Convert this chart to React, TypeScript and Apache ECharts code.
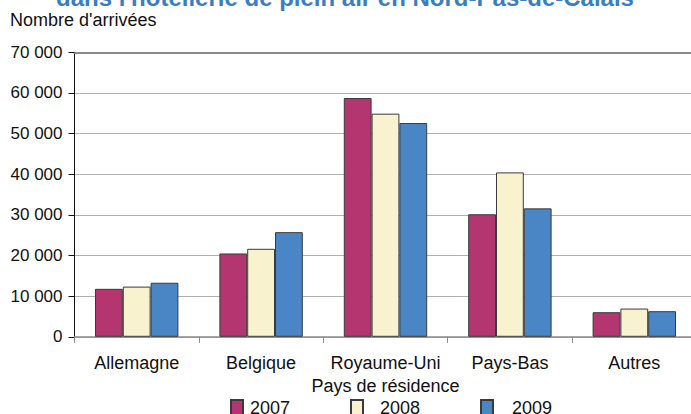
import React, { useEffect, useRef } from "react";
import * as echarts from "echarts";

const categories = ["Allemagne", "Belgique", "Royaume-Uni", "Pays-Bas", "Autres"];
const years = ["2007", "2008", "2009"];
const values2007 = [11800, 20500, 58750, 30150, 6050];
const values2008 = [12350, 21650, 54900, 40450, 6950];
const values2009 = [13300, 25750, 52600, 31600, 6300];
const colors = ["#B43670", "#F8F2CE", "#4A86C5"];
const titleText = "dans l'hôtellerie de plein air en Nord-Pas-de-Calais";
const yAxisTitle = "Nombre d'arrivées";
const xAxisTitle = "Pays de résidence";

const FONT = "'Liberation Sans', Arial, Helvetica, sans-serif";

export default function App() {
  const ref = useRef<HTMLDivElement>(null);
  useEffect(() => {
    if (!ref.current) return;
    const chart = echarts.init(ref.current, null, { renderer: "svg" });
    const seriesData = [values2007, values2008, values2009];
    const legendLefts = [230, 350, 480];
    const legendPads = [2, 12, 14];
    chart.setOption({
      animation: false,
      textStyle: { fontFamily: FONT },
      grid: { left: 74.5, top: 52.3, width: 622, height: 284.5, containLabel: false },
      legend: years.map((y, i) => ({
        data: [y],
        left: legendLefts[i],
        top: 399,
        padding: 0,
        itemWidth: 12,
        itemHeight: 16,
        icon: "rect",
        textStyle: { fontFamily: FONT, fontSize: 18, color: "#111", padding: [0, 0, 0, legendPads[i]] },
      })),
      xAxis: [
        {
          type: "category",
          data: categories,
          position: "bottom",
          name: xAxisTitle,
          nameLocation: "middle",
          nameGap: 37,
          nameTextStyle: { fontFamily: FONT, fontSize: 18, color: "#111" },
          axisLine: { lineStyle: { color: "#8a8a8a", width: 1.5 } },
          axisTick: { show: true, length: 6, lineStyle: { color: "#8a8a8a" } },
          axisLabel: { fontFamily: FONT, fontSize: 18, color: "#111", margin: 17, interval: 0 },
          splitLine: { show: false },
        },
        {
          type: "category",
          data: categories,
          position: "top",
          axisLine: { show: true, lineStyle: { color: "#8a8a8a", width: 2 } },
          axisTick: { show: false },
          axisLabel: { show: false },
        },
      ],
      yAxis: {
        type: "value",
        min: 0,
        max: 70000,
        interval: 10000,
        axisLine: { show: true, lineStyle: { color: "#111", width: 1 } },
        axisTick: { show: true, length: 6, lineStyle: { color: "#111" } },
        axisLabel: {
          fontFamily: FONT,
          fontSize: 17,
          color: "#111",
          margin: 12,
          formatter: (v: number) => String(v).replace(/\B(?=(\d{3})+(?!\d))/g, " "),
        },
        splitLine: { show: true, lineStyle: { color: "#b0b0b0", width: 1.2 } },
      },
      series: years.map((y, i) => ({
        name: y,
        type: "bar",
        data: seriesData[i],
        barWidth: 27.8,
        barGap: "0%",
        itemStyle: { color: colors[i], borderColor: "#3a3a3a", borderWidth: 1 },
      })),
      graphic: [
        {
          type: "text",
          x: 345,
          y: 9,
          style: {
            text: titleText,
            fill: "#3A7DC0",
            font: `bold 24px ${FONT}`,
            align: "center",
            verticalAlign: "bottom",
          },
        },
        {
          type: "text",
          x: 10,
          y: 20,
          style: {
            text: yAxisTitle,
            fill: "#111",
            font: `18px ${FONT}`,
            align: "left",
            verticalAlign: "middle",
          },
        },
      ],
    });
    return () => chart.dispose();
  }, []);
  return (
    <div style={{ position: "fixed", left: 0, top: 0, width: 691, height: 414, overflow: "hidden", background: "#fff" }}>
      <div ref={ref} style={{ width: 720, height: 414 }} />
    </div>
  );
}
